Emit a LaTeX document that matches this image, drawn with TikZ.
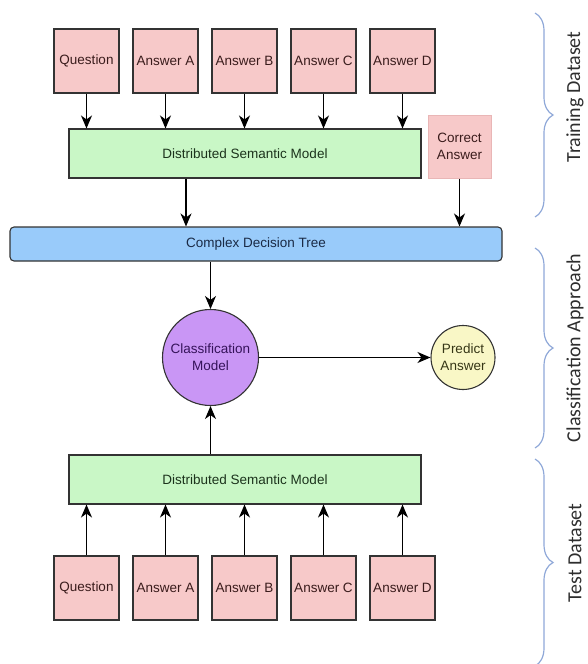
\documentclass[tikz,border=0pt]{standalone}
\usepackage{fontspec}
\setmainfont{Liberation Sans}
\newfontfamily\labelfont{Carlito}
\usetikzlibrary{arrows.meta,decorations.pathreplacing}

\definecolor{pinkfill}{HTML}{F7C9C9}
\definecolor{pinkedge}{HTML}{E9B6B6}
\definecolor{pinktext}{HTML}{3A1C1C}
\definecolor{greenfill}{HTML}{C9F7C6}
\definecolor{greentext}{HTML}{1C331C}
\definecolor{bluefill}{HTML}{99CBFA}
\definecolor{bluetext}{HTML}{1A2A45}
\definecolor{purplefill}{HTML}{C996F5}
\definecolor{purpletext}{HTML}{35135A}
\definecolor{yellowfill}{HTML}{F9F7C6}
\definecolor{yellowtext}{HTML}{363616}
\definecolor{edge}{HTML}{333333}
\definecolor{bracecol}{HTML}{8FA8D8}
\definecolor{labeltext}{HTML}{2E2E2E}

\tikzset{
  boxfont/.style={font=\fontsize{13.5}{15.5}\selectfont},
  inputbox/.style={draw=edge, line width=1.1pt, fill=pinkfill, text=pinktext,
    minimum width=65pt, minimum height=64pt, inner sep=0pt, boxfont},
  keybox/.style={draw=pinkedge, line width=1pt, fill=pinkfill, text=pinktext,
    minimum width=63pt, minimum height=63pt, inner sep=0pt, align=center,
    font=\fontsize{13.5}{17}\selectfont},
  dsmbox/.style={draw=edge, line width=1.1pt, fill=greenfill, text=greentext,
    minimum width=352pt, minimum height=49pt, inner sep=0pt, boxfont},
  treebox/.style={draw=edge, line width=1.1pt, fill=bluefill, text=bluetext,
    rounded corners=4pt, minimum width=492pt, minimum height=34pt, inner sep=0pt, boxfont},
  modelnode/.style={circle, draw=edge, line width=1.1pt, fill=purplefill, text=purpletext,
    minimum size=96pt, inner sep=0pt, align=center, font=\fontsize{13.5}{17}\selectfont},
  outnode/.style={circle, draw=edge, line width=1.1pt, fill=yellowfill, text=yellowtext,
    minimum size=64pt, inner sep=0pt, align=center, font=\fontsize{13.5}{17}\selectfont},
  arr/.style={draw=black, line width=1.1pt, -{Stealth[length=13pt,width=11pt,inset=4pt]}},
  groupbrace/.style={draw=bracecol, line width=1.2pt, decorate,
    decoration={brace, amplitude=18pt}},
  grouplabel/.style={rotate=90, text=labeltext, font=\labelfont\fontsize{20}{24}\selectfont},
}

\begin{document}
\begin{tikzpicture}[x=1pt, y=-1pt]
  \useasboundingbox (0,0) rectangle (587,664);

  % training inputs
  \node[inputbox] (tq) at (86.5,61)  {Question};
  \node[inputbox] (ta) at (165.5,61) {Answer A};
  \node[inputbox] (tb) at (244.5,61) {Answer B};
  \node[inputbox] (tc) at (323.5,61) {Answer C};
  \node[inputbox] (td) at (402.5,61) {Answer D};

  \node[dsmbox] (dsm1) at (245,153.5) {Distributed Semantic Model};
  \node[keybox] (ca) at (459.5,146.5) {Correct\\Answer};

  \node[treebox] (cdt) at (256,244) {Complex Decision Tree};

  \node[modelnode] (cm) at (210.5,357.5) {Classification\\Model};
  \node[outnode] (pa) at (463,357.5) {Predict\\Answer};

  % test inputs
  \node[dsmbox] (dsm2) at (245,479.5) {Distributed Semantic Model};
  \node[inputbox] (bq) at (86.5,588)  {Question};
  \node[inputbox] (ba) at (165.5,588) {Answer A};
  \node[inputbox] (bb) at (244.5,588) {Answer B};
  \node[inputbox] (bc) at (323.5,588) {Answer C};
  \node[inputbox] (bd) at (402.5,588) {Answer D};

  % connectors
  \foreach \n in {tq,ta,tb,tc,td}
    \draw[arr] (\n.south) -- (\n.south |- dsm1.north);
  \draw[arr] ([xshift=-59pt]dsm1.south) -- ([xshift=-59pt]dsm1.south |- cdt.north);
  \draw[arr] (ca.south) -- (ca.south |- cdt.north);
  \draw[arr] (cdt.south -| cm.north) -- (cm.north);
  \draw[arr] (cm.east) -- (pa.west);
  \draw[arr] (dsm2.north -| cm.south) -- (cm.south);
  \foreach \n in {bq,ba,bb,bc,bd}
    \draw[arr] (\n.north) -- (\n.north |- dsm2.south);

  % grouping braces and their labels
  \coordinate (g1a) at (535,13);  \coordinate (g1b) at (535,217);
  \coordinate (g2a) at (535,248); \coordinate (g2b) at (535,448);
  \coordinate (g3a) at (535,459); \coordinate (g3b) at (535,666);
  \draw[groupbrace] (g1a) -- (g1b);
  \draw[groupbrace] (g2a) -- (g2b);
  \draw[groupbrace] (g3a) -- (g3b);
  \node[grouplabel] (l1) at (575,97)  {Training Dataset};
  \node[grouplabel] (l2) at (575,348) {Classification Approach};
  \node[grouplabel] (l3) at (575,553) {Test Dataset};
\end{tikzpicture}
\end{document}
